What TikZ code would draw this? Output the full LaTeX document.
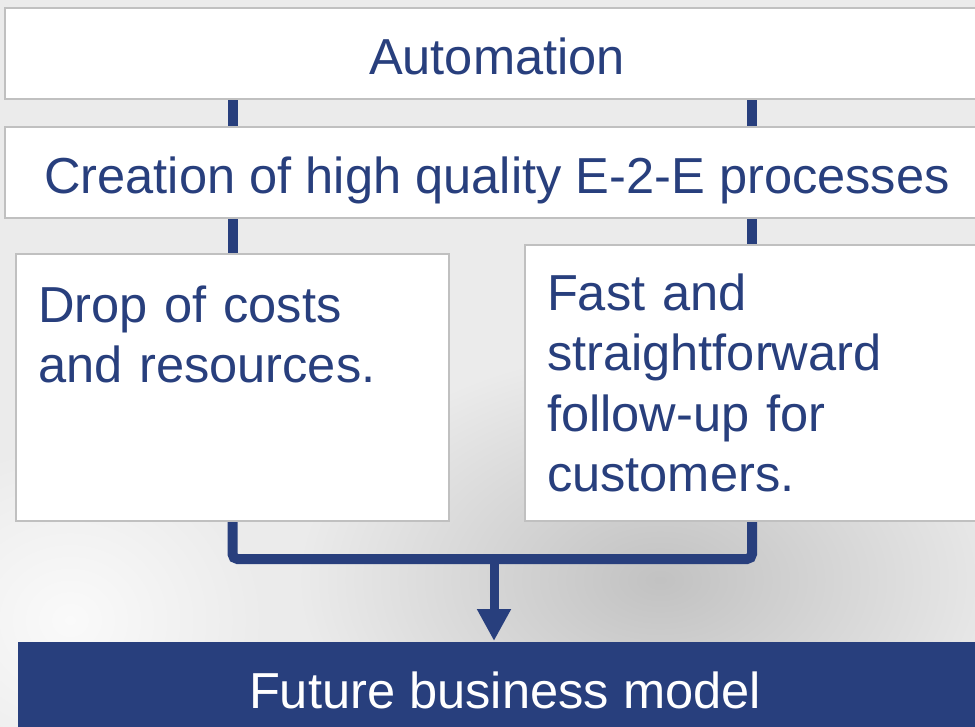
\documentclass[tikz,border=0pt]{standalone}
\usepackage{fontspec}
\setmainfont{Liberation Sans}
\usetikzlibrary{arrows.meta}
\definecolor{navy}{RGB}{40,63,125}
\definecolor{frame}{RGB}{192,192,192}

\begin{document}
\begin{tikzpicture}[x=1pt, y=-1pt,
  box/.style={draw=frame, line width=2pt, fill=white, text=navy, font=\fontsize{50.6}{60.5}\selectfont, inner xsep=0pt, inner ysep=0pt},
  wide/.style={box, anchor=north west, minimum width=984pt, text height=66pt, text depth=25pt},
  tall/.style={box, anchor=north west, align=left, inner xsep=22pt},
  link/.style={draw=navy, line width=10pt}]
\useasboundingbox (0,0) rectangle (975,726);
\fill[black!8] (0,0) rectangle (975,726);
\shade[inner color=black!24, outer color=black!8] (660,580) ellipse [x radius=360, y radius=230];
\shade[inner color=black!2, outer color=black!8] (70,620) ellipse [x radius=200, y radius=180];

\node[wide] (auto) at (4,7) {Automation};
\node[wide] (quality) at (4,126) {Creation of high quality E-2-E processes};
\node[tall, text width=389pt, text height=68pt, text depth=199pt] (drop) at (15,253) {Drop of costs\\and resources.};
\node[tall, text width=410pt, text height=65pt, text depth=211pt] (fast) at (524,244) {Fast and\\straightforward\\follow-up for\\customers.};

\draw[link] (auto.south -| drop.north) -- (quality.north -| drop.north);
\draw[link] (auto.south -| fast.north) -- (quality.north -| fast.north);
\draw[link] (quality.south -| drop.north) -- (drop.north);
\draw[link] (quality.south -| fast.north) -- (fast.north);
\draw[link, rounded corners=5pt] (drop.south) -- ++(0,37) -| (fast.south);

\node[box, anchor=north west, draw=none, fill=navy, text=white, minimum width=974pt, text height=66pt, text depth=40pt] (model) at (17,641) {Future business model};
\coordinate (join) at (494,557);
\draw[link, line width=9pt, -{Triangle[length=32pt, width=32pt]}] (join) -- (join |- model.north);
\end{tikzpicture}
\end{document}
